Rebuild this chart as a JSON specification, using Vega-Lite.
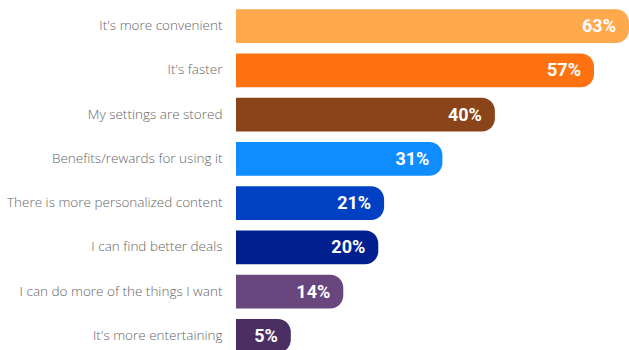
{
  "$schema": "https://vega.github.io/schema/vega-lite/v6.json",
  "width": 393,
  "height": 354,
  "padding": {"left": 0, "top": 4, "right": 0, "bottom": 0},
  "autosize": {"type": "pad"},
  "background": "white",
  "config": {"view": {"stroke": null}},
  "data": {
    "values": [
      {"reason": "It's more convenient", "pct": 63},
      {"reason": "It's faster", "pct": 57},
      {"reason": "My settings are stored", "pct": 40},
      {"reason": "Benefits/rewards for using it", "pct": 31},
      {"reason": "There is more personalized content", "pct": 21},
      {"reason": "I can find better deals", "pct": 20},
      {"reason": "I can do more of the things I want", "pct": 14},
      {"reason": "It's more entertaining", "pct": 5}
    ]
  },
  "encoding": {
    "y": {
      "field": "reason",
      "type": "nominal",
      "sort": null,
      "scale": {"paddingInner": 0.24, "paddingOuter": 0.12},
      "axis": {
        "title": null,
        "ticks": false,
        "domain": false,
        "labelPadding": 14,
        "minExtent": 236,
        "maxExtent": 236,
        "labelLimit": 300,
        "labelFont": "Open Sans",
        "labelFontSize": 13.5,
        "labelColor": "#666666",
        "labelFontWeight": 300
      }
    }
  },
  "layer": [
    {
      "mark": {"type": "bar", "cornerRadiusTopRight": 13, "cornerRadiusBottomRight": 13, "clip": true},
      "encoding": {
        "x": {
          "field": "pct",
          "type": "quantitative",
          "scale": {"domain": [-4.4, 63], "nice": false, "zero": false},
          "axis": null
        },
        "x2": {"datum": -4.4},
        "color": {
          "field": "reason",
          "type": "nominal",
          "legend": null,
          "scale": {
            "domain": ["It's more convenient", "It's faster", "My settings are stored", "Benefits/rewards for using it", "There is more personalized content", "I can find better deals", "I can do more of the things I want", "It's more entertaining"],
            "range": ["#FFA94D", "#FF7212", "#8A4419", "#0F8DFF", "#0040C2", "#00208F", "#6A467F", "#4B2E62"]
          }
        }
      }
    },
    {
      "mark": {
        "type": "text",
        "align": "right",
        "baseline": "middle",
        "dx": -13,
        "dy": 1,
        "color": "white",
        "font": "Roboto",
        "fontWeight": "bold",
        "fontSize": 18,
        "text": {"expr": "datum.pct + '%'"}
      },
      "encoding": {
        "x": {"field": "pct", "type": "quantitative"}
      }
    }
  ]
}
